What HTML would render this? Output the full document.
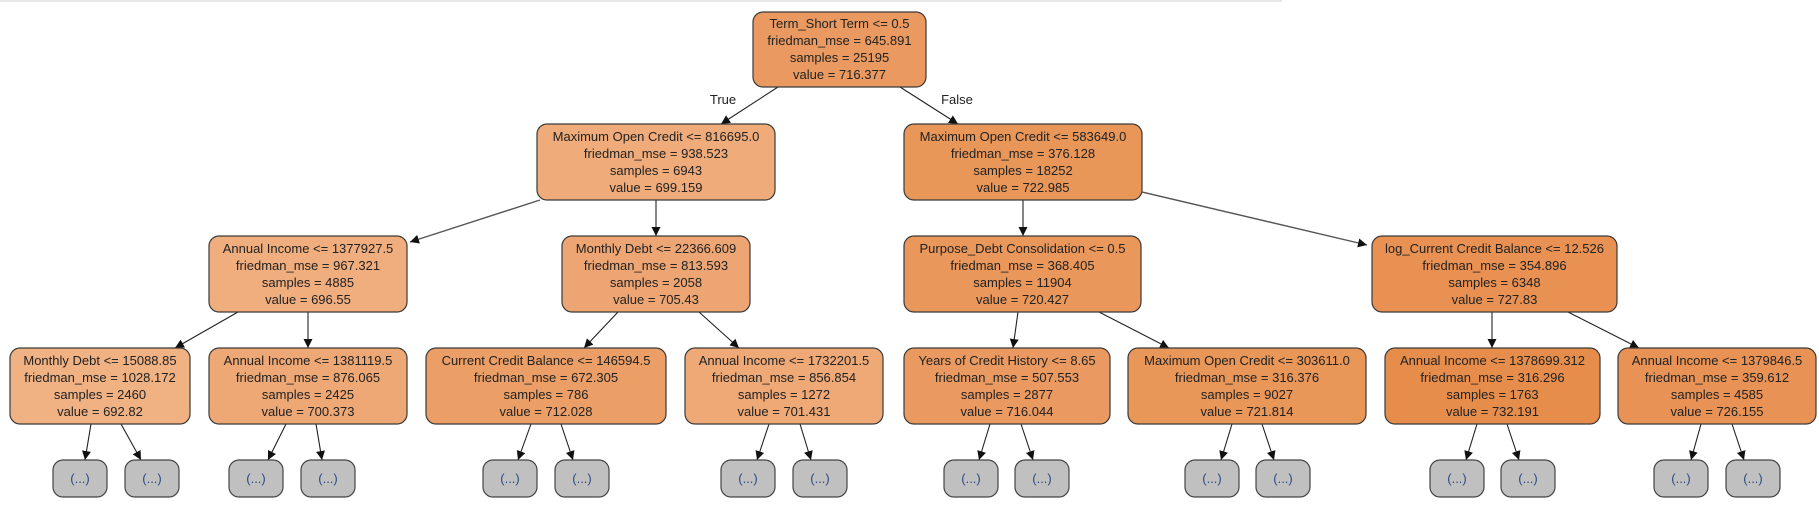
<!DOCTYPE html>
<html><head><meta charset="utf-8"><style>
html,body{margin:0;padding:0;background:#fff;width:1819px;height:506px;overflow:hidden}
svg{display:block}
text{font-family:"Liberation Sans",Arial,sans-serif;font-size:13px;fill:#222;text-anchor:middle}
.n{stroke:#3a3a3a;stroke-width:1.2}
.lf{fill:#c0c0c0;stroke:#444;stroke-width:1.2}
.lt{fill:#2c4a86;font-size:13px}
.e{stroke:#222;stroke-width:1.1;fill:none}
.g{stroke:#555;stroke-width:1.4;fill:none}
</style></head><body>
<svg width="1819" height="506" viewBox="0 0 1819 506" xmlns="http://www.w3.org/2000/svg">
<defs>
<marker id="a" viewBox="0 0 10 10" refX="10" refY="5" markerWidth="9" markerHeight="9" markerUnits="userSpaceOnUse" orient="auto"><path d="M0,0 L10,5 L0,10 z" fill="#111"/></marker>
</defs>
<line x1="0" y1="1" x2="1282" y2="1" stroke="#e8e8e8" stroke-width="2"/>

<!-- edges -->
<line class="e" x1="778" y1="87" x2="721" y2="124" marker-end="url(#a)"/>
<line class="e" x1="900" y1="87" x2="958" y2="124" marker-end="url(#a)"/>
<text x="723" y="104">True</text>
<text x="957" y="104">False</text>
<line class="g" x1="540" y1="200" x2="410" y2="242" marker-end="url(#a)"/>
<line class="e" x1="656" y1="200" x2="656" y2="236" marker-end="url(#a)"/>
<line class="e" x1="1023" y1="200" x2="1023" y2="236" marker-end="url(#a)"/>
<line class="g" x1="1142" y1="192" x2="1367" y2="245" marker-end="url(#a)"/>
<line class="e" x1="238" y1="312" x2="175" y2="348" marker-end="url(#a)"/>
<line class="e" x1="308" y1="312" x2="308" y2="348" marker-end="url(#a)"/>
<line class="e" x1="618" y1="312" x2="584" y2="348" marker-end="url(#a)"/>
<line class="e" x1="699" y1="312" x2="739" y2="348" marker-end="url(#a)"/>
<line class="e" x1="1018" y1="312" x2="1013" y2="348" marker-end="url(#a)"/>
<line class="e" x1="1099" y1="312" x2="1169" y2="348" marker-end="url(#a)"/>
<line class="e" x1="1492" y1="312" x2="1492" y2="348" marker-end="url(#a)"/>
<line class="e" x1="1568" y1="312" x2="1639" y2="348" marker-end="url(#a)"/>
<!-- leaf edges -->
<g class="e">
<line x1="91" y1="424" x2="85" y2="460" marker-end="url(#a)"/>
<line x1="121" y1="424" x2="141" y2="460" marker-end="url(#a)"/>
<line x1="286" y1="424" x2="268" y2="460" marker-end="url(#a)"/>
<line x1="316" y1="424" x2="322" y2="460" marker-end="url(#a)"/>
<line x1="531" y1="424" x2="518" y2="460" marker-end="url(#a)"/>
<line x1="561" y1="424" x2="573" y2="460" marker-end="url(#a)"/>
<line x1="769" y1="424" x2="757" y2="460" marker-end="url(#a)"/>
<line x1="800" y1="424" x2="811" y2="460" marker-end="url(#a)"/>
<line x1="990" y1="424" x2="979" y2="460" marker-end="url(#a)"/>
<line x1="1021" y1="424" x2="1033" y2="460" marker-end="url(#a)"/>
<line x1="1232" y1="424" x2="1221" y2="460" marker-end="url(#a)"/>
<line x1="1262" y1="424" x2="1274" y2="460" marker-end="url(#a)"/>
<line x1="1477" y1="424" x2="1466" y2="460" marker-end="url(#a)"/>
<line x1="1507" y1="424" x2="1519" y2="460" marker-end="url(#a)"/>
<line x1="1701" y1="424" x2="1691" y2="460" marker-end="url(#a)"/>
<line x1="1732" y1="424" x2="1744" y2="460" marker-end="url(#a)"/>
</g>

<!-- nodes -->
<rect class="n" x="753" y="12" width="173" height="75" rx="10" fill="#ea9a60"/>
<text x="839.5" y="28">Term_Short Term &lt;= 0.5</text><text x="839.5" y="45">friedman_mse = 645.891</text><text x="839.5" y="62">samples = 25195</text><text x="839.5" y="79">value = 716.377</text>

<rect class="n" x="537" y="124" width="238" height="76" rx="10" fill="#efab7a"/>
<text x="656" y="141">Maximum Open Credit &lt;= 816695.0</text><text x="656" y="158">friedman_mse = 938.523</text><text x="656" y="175">samples = 6943</text><text x="656" y="192">value = 699.159</text>

<rect class="n" x="904" y="124" width="238" height="76" rx="10" fill="#e99659"/>
<text x="1023" y="141">Maximum Open Credit &lt;= 583649.0</text><text x="1023" y="158">friedman_mse = 376.128</text><text x="1023" y="175">samples = 18252</text><text x="1023" y="192">value = 722.985</text>

<rect class="n" x="209" y="236" width="198" height="76" rx="10" fill="#f0ae7e"/>
<text x="308" y="253">Annual Income &lt;= 1377927.5</text><text x="308" y="270">friedman_mse = 967.321</text><text x="308" y="287">samples = 4885</text><text x="308" y="304">value = 696.55</text>

<rect class="n" x="562" y="236" width="188" height="76" rx="10" fill="#eda673"/>
<text x="656" y="253">Monthly Debt &lt;= 22366.609</text><text x="656" y="270">friedman_mse = 813.593</text><text x="656" y="287">samples = 2058</text><text x="656" y="304">value = 705.43</text>

<rect class="n" x="904" y="236" width="237" height="76" rx="10" fill="#e9975b"/>
<text x="1022.5" y="253">Purpose_Debt Consolidation &lt;= 0.5</text><text x="1022.5" y="270">friedman_mse = 368.405</text><text x="1022.5" y="287">samples = 11904</text><text x="1022.5" y="304">value = 720.427</text>

<rect class="n" x="1372" y="236" width="245" height="76" rx="10" fill="#e89152"/>
<text x="1494.5" y="253">log_Current Credit Balance &lt;= 12.526</text><text x="1494.5" y="270">friedman_mse = 354.896</text><text x="1494.5" y="287">samples = 6348</text><text x="1494.5" y="304">value = 727.83</text>

<rect class="n" x="10" y="348" width="180" height="76" rx="10" fill="#f0b183"/>
<text x="100" y="365">Monthly Debt &lt;= 15088.85</text><text x="100" y="382">friedman_mse = 1028.172</text><text x="100" y="399">samples = 2460</text><text x="100" y="416">value = 692.82</text>

<rect class="n" x="209" y="348" width="198" height="76" rx="10" fill="#eea876"/>
<text x="308" y="365">Annual Income &lt;= 1381119.5</text><text x="308" y="382">friedman_mse = 876.065</text><text x="308" y="399">samples = 2425</text><text x="308" y="416">value = 700.373</text>

<rect class="n" x="426" y="348" width="240" height="76" rx="10" fill="#eb9e65"/>
<text x="546" y="365">Current Credit Balance &lt;= 146594.5</text><text x="546" y="382">friedman_mse = 672.305</text><text x="546" y="399">samples = 786</text><text x="546" y="416">value = 712.028</text>

<rect class="n" x="685" y="348" width="198" height="76" rx="10" fill="#eea977"/>
<text x="784" y="365">Annual Income &lt;= 1732201.5</text><text x="784" y="382">friedman_mse = 856.854</text><text x="784" y="399">samples = 1272</text><text x="784" y="416">value = 701.431</text>

<rect class="n" x="904" y="348" width="206" height="76" rx="10" fill="#ea9a60"/>
<text x="1007" y="365">Years of Credit History &lt;= 8.65</text><text x="1007" y="382">friedman_mse = 507.553</text><text x="1007" y="399">samples = 2877</text><text x="1007" y="416">value = 716.044</text>

<rect class="n" x="1128" y="348" width="238" height="76" rx="10" fill="#e99659"/>
<text x="1247" y="365">Maximum Open Credit &lt;= 303611.0</text><text x="1247" y="382">friedman_mse = 316.376</text><text x="1247" y="399">samples = 9027</text><text x="1247" y="416">value = 721.814</text>

<rect class="n" x="1385" y="348" width="215" height="76" rx="10" fill="#e78d4b"/>
<text x="1492.5" y="365">Annual Income &lt;= 1378699.312</text><text x="1492.5" y="382">friedman_mse = 316.296</text><text x="1492.5" y="399">samples = 1763</text><text x="1492.5" y="416">value = 732.191</text>

<rect class="n" x="1618" y="348" width="198" height="76" rx="10" fill="#e89355"/>
<text x="1717" y="365">Annual Income &lt;= 1379846.5</text><text x="1717" y="382">friedman_mse = 359.612</text><text x="1717" y="399">samples = 4585</text><text x="1717" y="416">value = 726.155</text>

<!-- leaves -->
<g>
<rect class="lf" x="53" y="460" width="54" height="37" rx="10"/><text class="lt" x="80" y="483">(...)</text>
<rect class="lf" x="125" y="460" width="54" height="37" rx="10"/><text class="lt" x="152" y="483">(...)</text>
<rect class="lf" x="229" y="460" width="54" height="37" rx="10"/><text class="lt" x="256" y="483">(...)</text>
<rect class="lf" x="301" y="460" width="54" height="37" rx="10"/><text class="lt" x="328" y="483">(...)</text>
<rect class="lf" x="483" y="460" width="54" height="37" rx="10"/><text class="lt" x="510" y="483">(...)</text>
<rect class="lf" x="555" y="460" width="54" height="37" rx="10"/><text class="lt" x="582" y="483">(...)</text>
<rect class="lf" x="721" y="460" width="54" height="37" rx="10"/><text class="lt" x="748" y="483">(...)</text>
<rect class="lf" x="793" y="460" width="54" height="37" rx="10"/><text class="lt" x="820" y="483">(...)</text>
<rect class="lf" x="944" y="460" width="54" height="37" rx="10"/><text class="lt" x="971" y="483">(...)</text>
<rect class="lf" x="1015" y="460" width="54" height="37" rx="10"/><text class="lt" x="1042" y="483">(...)</text>
<rect class="lf" x="1185" y="460" width="54" height="37" rx="10"/><text class="lt" x="1212" y="483">(...)</text>
<rect class="lf" x="1256" y="460" width="54" height="37" rx="10"/><text class="lt" x="1283" y="483">(...)</text>
<rect class="lf" x="1430" y="460" width="54" height="37" rx="10"/><text class="lt" x="1457" y="483">(...)</text>
<rect class="lf" x="1501" y="460" width="54" height="37" rx="10"/><text class="lt" x="1528" y="483">(...)</text>
<rect class="lf" x="1654" y="460" width="54" height="37" rx="10"/><text class="lt" x="1681" y="483">(...)</text>
<rect class="lf" x="1726" y="460" width="54" height="37" rx="10"/><text class="lt" x="1753" y="483">(...)</text>
</g>
</svg>
</body></html>
